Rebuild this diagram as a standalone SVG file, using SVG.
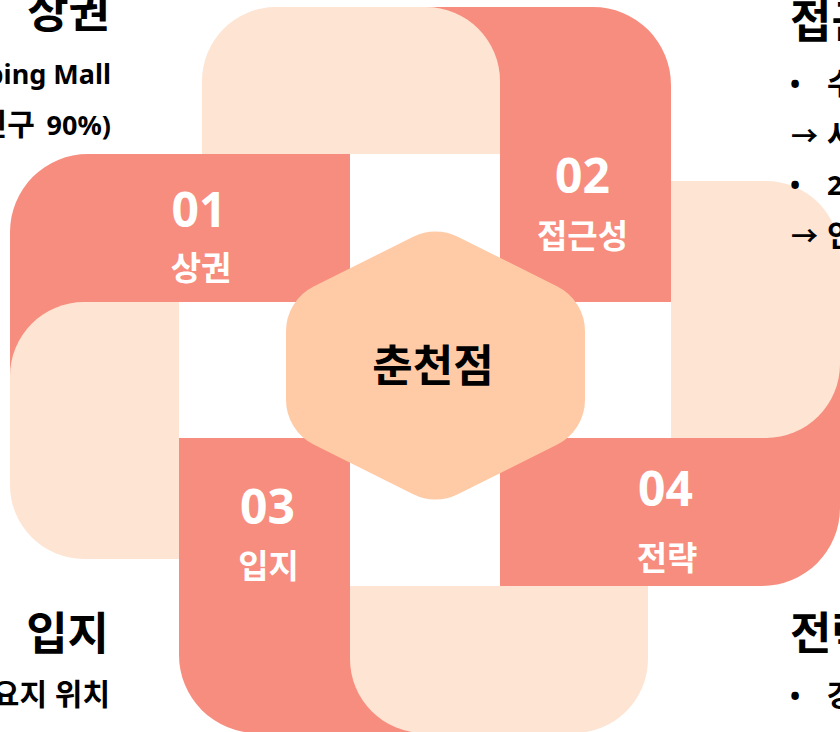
<svg xmlns="http://www.w3.org/2000/svg" width="840" height="732" viewBox="0 0 840 732">
<style>
.sal{fill:#F78D7E}
.lt{fill:#FEE4D3}
.hex{fill:#FFCBA6}
text{font-family:"Noto Sans","Noto Sans CJK KR",sans-serif;font-weight:700}
.num{fill:#fff;font-size:48px;text-anchor:middle}
.lab{fill:#fff;font-size:33px;text-anchor:middle}
.ctr{fill:#000;font-size:44px;text-anchor:middle}
.ttl{fill:#000;font-size:45px}
.body{fill:#000;font-size:27px}
.ko{font-size:30px}
.end{text-anchor:end}
</style>
<rect width="840" height="732" fill="#fff"/>
<g id="band-01">
<path class="sal" d="M10 232A78 78 0 0 1 88 154L350 154L350 302L179 302L179 400L10 400Z"/>
<text class="num" x="199" y="227">01</text>
<text class="lab" x="201" y="280">상권</text>
</g>
<g id="band-02">
<path class="sal" d="M420 7L593 7A78 78 0 0 1 671 85L671 302L500 302L500 154L420 154Z"/>
<text class="num" x="582.5" y="193">02</text>
<text class="lab" x="582.5" y="248">접근성</text>
</g>
<g id="band-03">
<path class="sal" d="M430 733L257 733A78 78 0 0 1 179 655L179 438L350 438L350 586L430 586Z"/>
<text class="num" x="267.5" y="524">03</text>
<text class="lab" x="268.5" y="578">입지</text>
</g>
<g id="band-04">
<path class="sal" d="M840 508A78 78 0 0 1 762 586L500 586L500 438L671 438L671 340L840 340Z"/>
<text class="num" x="665.5" y="506">04</text>
<text class="lab" x="667" y="570">전략</text>
</g>
<g id="light-tiles">
<path class="lt" d="M202 81A74 74 0 0 1 276 7L426 7A74 74 0 0 1 500 81L500 154L202 154Z"/>
<path class="lt" d="M671 181L766 181A74 74 0 0 1 840 255L840 364A74 74 0 0 1 766 438L671 438Z"/>
<path class="lt" d="M648 659A74 74 0 0 1 574 733L424 733A74 74 0 0 1 350 659L350 586L648 586Z"/>
<path class="lt" d="M10 376A74 74 0 0 1 84 302L179 302L179 559L84 559A74 74 0 0 1 10 485Z"/>
</g>
<g id="center">
<path class="hex" d="M413.2 236.7A50 50 0 0 1 457.8 236.7L557.4 286.6A50 50 0 0 1 585 331.4L585 399.6A50 50 0 0 1 557.4 444.4L457.8 494.3A50 50 0 0 1 413.2 494.3L313.6 444.4A50 50 0 0 1 286 399.6L286 331.4A50 50 0 0 1 313.6 286.6Z"/>
<text class="ctr" x="433" y="382">춘천점</text>
</g>
<g id="note-01">
<text class="ttl end" x="110" y="28">상권</text>
<text class="body end" x="111" y="84">Shopping Mall</text>
<text class="body end" x="111" y="135"><tspan class="ko">인구 </tspan><tspan dx="4">90%)</tspan></text>
</g>
<g id="note-02">
<text class="ttl" x="790" y="38">접근성</text>
<text class="body" y="94"><tspan x="790">•</tspan><tspan x="827" class="ko">수</tspan></text>
<text class="body" y="146"><tspan x="791">→</tspan><tspan x="827" class="ko">사</tspan></text>
<text class="body" y="195"><tspan x="790">•</tspan><tspan x="827">2</tspan></text>
<text class="body" y="246"><tspan x="791">→</tspan><tspan x="827" class="ko">인</tspan></text>
</g>
<g id="note-03">
<text class="ttl end" x="109" y="650">입지</text>
<text class="body ko end" x="110" y="705">요지 위치</text>
</g>
<g id="note-04">
<text class="ttl" x="790" y="650">전략</text>
<text class="body" y="706"><tspan x="790">•</tspan><tspan x="827" class="ko">강</tspan></text>
</g>
</svg>
